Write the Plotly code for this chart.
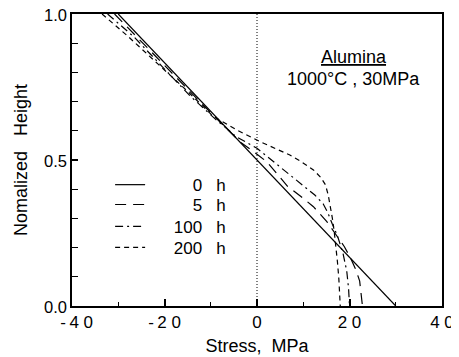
import plotly.graph_objects as go

# ---- data ----
stress_0h = [-30.0, 30.0]
height_0h = [1.0, 0.0]

stress_5h = [-30.8, -25.0, -19.0, -13.0, -8.0, -3.5, 0.0, 2.1, 4.5, 6.6, 9.5, 12.2, 15.1, 16.8, 18.9, 20.2, 21.4, 22.2, 22.6, 22.8]
height_5h = [1.0, 0.905, 0.805, 0.71, 0.63, 0.56, 0.52, 0.494, 0.45, 0.41, 0.375, 0.34, 0.289, 0.25, 0.203, 0.165, 0.123, 0.085, 0.04, 0.0]

stress_100h = [-32.3, -26.5, -20.5, -14.5, -9.0, -4.5, 0.0, 3.5, 6.2, 8.6, 10.5, 12.5, 14.3, 15.3, 16.3, 17.4, 18.6, 19.4, 19.8, 20.0]
height_100h = [1.0, 0.92, 0.82, 0.72, 0.64, 0.58, 0.54, 0.495, 0.46, 0.43, 0.405, 0.38, 0.35, 0.32, 0.28, 0.24, 0.18, 0.12, 0.06, 0.0]

stress_200h = [-33.5, -28.0, -21.5, -15.0, -9.5, -4.4, 0.65, 4.0, 7.1, 9.5, 12.2, 13.8, 14.8, 15.4, 15.9, 16.3, 16.7, 17.1, 17.4, 17.7, 17.9, 18.0]
height_200h = [1.0, 0.925, 0.83, 0.735, 0.65, 0.603, 0.563, 0.54, 0.517, 0.495, 0.466, 0.44, 0.415, 0.38, 0.34, 0.3, 0.254, 0.205, 0.15, 0.092, 0.05, 0.0]

series_labels = ["\u2007\u2007\u2007\u2007\u00a00\u00a0\u00a0\u00a0h", "\u2007\u2007\u2007\u2007\u00a05\u00a0\u00a0\u00a0h",
                 "\u2007\u2007\u00a0100\u00a0\u00a0\u00a0h", "\u2007\u2007\u00a0200\u00a0\u00a0\u00a0h"]

x_tickvals = [-40, -20, 0, 20, 40]
x_ticktext = ["\u00a0\u00a0-\u20094\u00a00", "-\u20092\u00a00", "0", "2\u00a00", "4\u00a00"]
y_tickvals = [0.0, 0.5, 1.0]
y_ticktext = ["0.0", "0.5", "1.0"]

FONT = "Liberation Sans, Arial, Helvetica, sans-serif"

fig = go.Figure()
dashes = ["solid", "11px,7px", "8px,4px,2px,4px", "5px,4px"]
legend_ids = ["legend", "legend2", "legend3", "legend4"]
legend_rows = [0.414, 0.346, 0.271, 0.199]
data = [(stress_0h, height_0h), (stress_5h, height_5h), (stress_100h, height_100h), (stress_200h, height_200h)]
for (s, h), lab, d, lid in zip(data, series_labels, dashes, legend_ids):
    fig.add_trace(go.Scatter(x=s, y=h, mode="lines", name=lab, legend=lid,
                             line=dict(color="black", width=1.2, dash=d)))

fig.add_vline(x=0, line=dict(color="black", width=1, dash="1px,2px"))

fig.add_annotation(x=0.762, y=0.853, xref="paper", yref="paper", text="<u>Alumina</u>",
                   xanchor="center", yanchor="middle",
                   showarrow=False, font=dict(family=FONT, size=18, color="black"))
fig.add_annotation(x=0.762, y=0.777, xref="paper", yref="paper", text="1000\u00b0C , 30MPa",
                   xanchor="center", yanchor="middle",
                   showarrow=False, font=dict(family=FONT, size=18, color="black"))

legend_common = dict(xanchor="left", yanchor="middle", bgcolor="rgba(0,0,0,0)", borderwidth=0,
                     font=dict(family=FONT, size=17, color="black"), itemwidth=30)
layout_legends = {lid: dict(x=0.103, y=yy, **legend_common) for lid, yy in zip(legend_ids, legend_rows)}

# page body has an 8px margin, so the figure is 451x349 to fill the 459x357 window
fig.update_layout(
    width=451, height=349,
    margin=dict(l=64, r=17, t=6, b=51, autoexpand=False),
    paper_bgcolor="white", plot_bgcolor="white",
    font=dict(family=FONT, size=17, color="black"),
    showlegend=True,
    **layout_legends,
)
fig.update_xaxes(range=[-40, 40], tickvals=x_tickvals, ticktext=x_ticktext,
                 ticks="inside", ticklen=7, tickwidth=1.5, tickcolor="black",
                 minor=dict(tickvals=[-30, -10, 10, 30], ticks="inside", ticklen=4, tickwidth=1.2, tickcolor="black"),
                 showline=True, linecolor="black", linewidth=1.5, mirror=True,
                 showgrid=False, zeroline=False, automargin=False, ticklabeloverflow="allow",
                 title=dict(text="Stress,\u00a0\u00a0MPa", font=dict(family=FONT, size=18), standoff=8),
                 tickfont=dict(family=FONT, size=17))
fig.update_yaxes(range=[0, 1], tickvals=y_tickvals, ticktext=y_ticktext,
                 ticks="inside", ticklen=6, tickwidth=1.5, tickcolor="black",
                 minor=dict(dtick=0.1, ticks="inside", ticklen=6, tickwidth=1.2, tickcolor="black"),
                 showline=True, linecolor="black", linewidth=1.5, mirror=True,
                 showgrid=False, zeroline=False, automargin=False, ticklabeloverflow="allow",
                 ticklabelshift=1,
                 title=dict(text="Nomalized\u00a0\u00a0\u00a0Height", font=dict(family=FONT, size=18), standoff=12),
                 tickfont=dict(family=FONT, size=16.5))

fig.write_html("out.html")
